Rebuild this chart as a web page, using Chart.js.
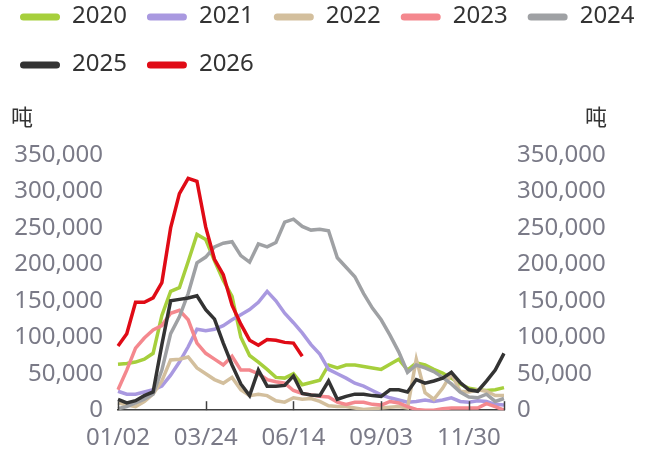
<!DOCTYPE html>
<html>
<head>
<meta charset="utf-8">
<script src="https://cdn.jsdelivr.net/npm/chart.js@4.4.1/dist/chart.umd.min.js"></script>
<style>
  html, body { margin: 0; padding: 0; background: #fff; }
  #wrap { position: relative; width: 650px; height: 452px; }
  .unit { position: absolute; top: 99px; font: 22px "Noto Sans CJK SC", sans-serif; color: #333; }
</style>
</head>
<body>
<div id="wrap">
  <canvas id="Chart" width="650" height="452"></canvas>
  <div class="unit" style="left:11px">吨</div>
  <div class="unit" style="left:585px">吨</div>
</div>
<script>
// roughly 8-day steps, labels shown every 10th point
var dates = ['01/02','01/10','01/18','01/26','02/03','02/11','02/19','02/27','03/07','03/15',
             '03/24','04/01','04/09','04/17','04/25','05/04','05/12','05/20','05/28','06/05',
             '06/14','06/22','06/30','07/08','07/16','07/25','08/02','08/10','08/18','08/26',
             '09/03','09/12','09/21','09/30','10/09','10/17','10/26','11/04','11/13','11/21',
             '11/30','12/08','12/16','12/24','12/31'];
var tickIdx = [0, 10, 20, 30, 40];

// thousand tonnes
var y2020 = [63,64,66,70,78,130,163,168,204,241,234,205,178,156,100,75,66,56,45,44,
             50,35,38,41,62,58,62,62,60,58,56,63,70,55,65,62,56,51,44,36,30,28,27,28,31];
var y2021 = [26,22,22,25,28,33,48,66,87,111,109,111,116,124,131,138,148,163,150,133,
             120,106,90,77,56,50,44,37,33,27,21,17,14,11,12,14,12,14,17,12,11,13,12,8,7];
var y2022 = [10,7,5,12,22,40,69,70,73,58,50,42,37,45,28,20,22,20,13,11,
             17,15,16,12,6,5,5,3,1,2,3,4,5,3,70,24,15,30,50,26,25,28,26,20,20];
var y2023 = [28,55,85,99,110,116,133,137,124,92,78,70,62,74,55,55,50,42,39,37,
             27,23,21,19,18,11,8,11,11,8,7,12,10,5,1,0,0,2,3,3,3,3,9,5,0];
var y2024 = [2,5,10,15,22,55,105,128,160,202,210,224,229,231,212,203,228,224,230,258,
             262,252,247,248,246,209,196,183,160,140,124,103,80,52,62,58,53,45,36,25,18,17,22,12,16];
var y2025 = [15,10,13,20,25,90,150,152,154,157,138,125,92,62,36,20,55,33,33,34,
             47,23,21,20,40,15,19,22,22,20,19,28,28,25,42,37,40,44,52,38,28,26,40,55,78];
var y2026 = [88,105,148,148,154,175,250,297,318,314,251,207,186,144,118,96,89,97,96,93,
             92,74];

var years = ['2020','2021','2022','2023','2024','2025','2026'];
var series = [y2020, y2021, y2022, y2023, y2024, y2025, y2026];
var colors = ['#a6cf3c','#a999e0','#d3bf9d','#f4888e','#9fa1a4','#333333','#e00b16'];

var font = '"Noto Sans", sans-serif';

var datasets = years.map(function(yr, k) {
  return {
    label: yr,
    data: series[k].map(function(v){ return v * 1000; }),
    borderColor: colors[k],
    backgroundColor: colors[k],
    borderWidth: 3.5,
    pointRadius: 0,
    tension: 0,
    yAxisID: 'y',
    order: years.length - k
  };
});
// empty set on the right axis so it gets drawn with the same range
datasets.push({ label: '', data: [], yAxisID: 'y2', pointRadius: 0, borderWidth: 0 });

var legendGap = {
  id: 'legendGap',
  beforeInit: function(chart) {
    var fit = chart.legend.fit;
    chart.legend.fit = function() {
      fit.bind(chart.legend)();
      this.height += 67;
    };
  }
};

// legend boxes are left empty (tall, for row spacing), the thin swatch is drawn here
var legendSwatch = {
  id: 'legendSwatch',
  afterDraw: function(chart) {
    var lg = chart.legend, ctx = chart.ctx;
    ctx.save();
    lg.legendItems.forEach(function(item, i) {
      var hb = lg.legendHitBoxes[i];
      var cy = hb.top + hb.height / 2 + 1;
      ctx.fillStyle = colors[item.datasetIndex];
      ctx.beginPath();
      ctx.roundRect(hb.left, cy - 3.5, 40, 7, 3.5);
      ctx.fill();
    });
    ctx.restore();
  }
};

var innerTicks = {
  id: 'innerTicks',
  afterDatasetsDraw: function(chart) {
    var ctx = chart.ctx, x = chart.scales.x, bottom = chart.chartArea.bottom;
    ctx.save();
    ctx.strokeStyle = '#404040';
    ctx.lineWidth = 1.5;
    tickIdx.concat([dates.length - 1]).forEach(function(i) {
      var px = Math.round(x.getPixelForValue(i)) + 0.5;
      ctx.beginPath();
      ctx.moveTo(px, bottom);
      ctx.lineTo(px, bottom - 9);
      ctx.stroke();
    });
    ctx.restore();
  }
};

var fmt = function(v) { return v.toLocaleString('en-US'); };

var chart = new Chart(document.getElementById('Chart'), {
  type: 'line',
  data: { labels: dates, datasets: datasets },
  plugins: [legendGap, legendSwatch, innerTicks],
  options: {
    responsive: false,
    devicePixelRatio: 1,
    animation: false,
    layout: { padding: { top: -18, left: 0, right: -10, bottom: -15 } },
    plugins: {
      tooltip: { enabled: false },
      legend: {
        position: 'top',
        align: 'start',
        labels: {
          boxWidth: 40,
          boxHeight: 28,
          padding: 20,
          color: '#333',
          font: { family: font, size: 24 },
          generateLabels: function(chart) {
            return Chart.defaults.plugins.legend.labels.generateLabels(chart).map(function(it) {
              it.fillStyle = 'rgba(0,0,0,0)';
              it.strokeStyle = 'rgba(0,0,0,0)';
              it.lineWidth = 0;
              return it;
            });
          },
          filter: function(item) { return item.text !== ''; },
          sort: function(a, b) { return a.datasetIndex - b.datasetIndex; }
        }
      }
    },
    scales: {
      x: {
        type: 'category',
        offset: false,
        grid: { display: false, drawTicks: false },
        border: { display: true, color: '#404040', width: 1.5 },
        ticks: {
          autoSkip: false,
          maxRotation: 0,
          padding: 14,
          color: '#7a7a87',
          font: { family: font, size: 24 },
          callback: function(v, i) { return tickIdx.indexOf(i) >= 0 ? dates[i] : ''; }
        }
      },
      y: {
        position: 'left',
        min: 0, max: 350000,
        grid: { display: false, drawTicks: false },
        border: { display: false },
        afterFit: function(s) { s.width = 118; },
        ticks: { stepSize: 50000, padding: 15, color: '#7a7a87', font: { family: font, size: 24 }, callback: fmt }
      },
      y2: {
        position: 'right',
        min: 0, max: 350000,
        grid: { display: false, drawTicks: false },
        border: { display: false },
        afterFit: function(s) { s.width = 156; },
        ticks: { stepSize: 50000, padding: 13, color: '#7a7a87', font: { family: font, size: 24 }, callback: fmt }
      }
    }
  }
});
</script>
</body>
</html>
